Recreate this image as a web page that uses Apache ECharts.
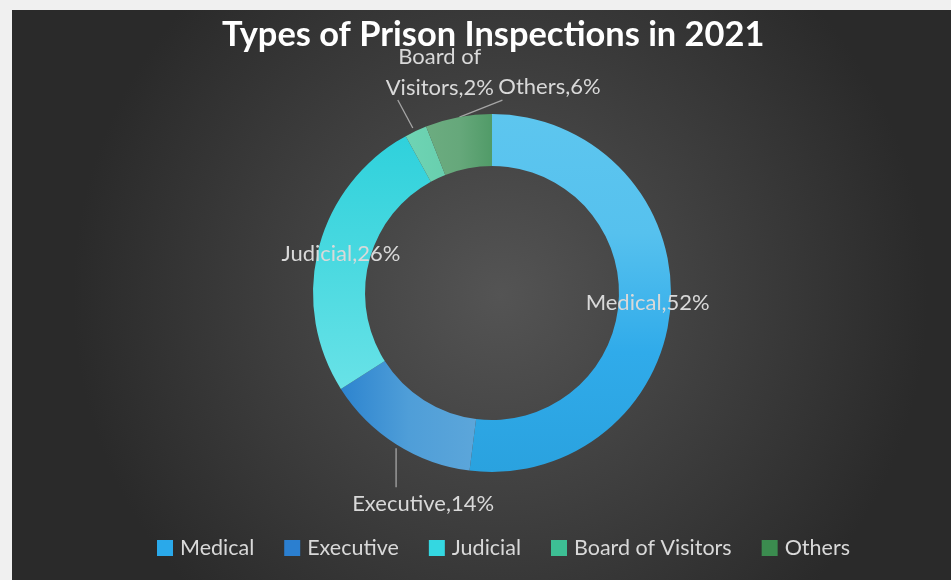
<!DOCTYPE html>
<html>
<head>
<meta charset="utf-8">
<title>Types of Prison Inspections in 2021</title>
<script src="https://cdn.jsdelivr.net/npm/echarts@6/dist/echarts.min.js"></script>
<style>
  html, body { margin: 0; padding: 0; background: #f0f0f0; width: 951px; height: 580px; overflow: hidden; }
  #chart { position: absolute; left: 12px; top: 10px; width: 939px; height: 570px; }
</style>
</head>
<body>
<div id="chart"></div>
<script>
// Inspection types and their share of all inspections (%)
const categories = ['Medical', 'Executive', 'Judicial', 'Board of Visitors', 'Others'];
const shares = [52, 14, 26, 2, 6];
const labelTexts = ['Medical,52%', 'Executive,14%', 'Judicial,26%', 'Board of\nVisitors,2%', 'Others,6%'];

// Ring geometry (px inside the chart box)
const CX = 480, CY = 283, R_IN = 127, R_OUT = 179;

// Slice fills (gradients) and legend swatch colours
const grad = (x2, y2, stops) => new echarts.graphic.LinearGradient(0, 0, x2, y2,
  stops.map((c, i) => ({ offset: i / (stops.length - 1), color: c })));
const sliceFills = [
  grad(0, 1, ['#5dc6ef', '#56c1ee', '#30abea', '#2aa2df']),
  grad(1, 0, ['#2d84cf', '#4f9ed8', '#5ca6da']),
  grad(0, 1, ['#2fd1dc', '#4ad9e0', '#68e2e7']),
  grad(1, 0, ['#6fd4b4', '#68cfae']),
  grad(1, 0, ['#6cac80', '#66a87b', '#519b68'])
];
const swatches = ['#2aa9ea', '#2b7fd0', '#34d7e1', '#3dbf94', '#3b8c4f'];

// Outside-label placement for the small slices: line points and label centre,
// as offsets from the slice's outer-edge mid point
const outsideLabels = {
  1: { line: [[0, 4], [0, 43]], text: [27, 60] },
  3: { line: [[-3, -3], [-18, -31]], text: [24, -59] },
  4: { line: [[1, 0], [44, -17]], text: [91, -30] }
};

const total = shares.reduce((a, b) => a + b, 0);
function edgeMid(i) {
  let before = 0;
  for (let k = 0; k < i; k++) before += shares[k];
  const theta = (before + shares[i] / 2) / total * 2 * Math.PI;
  return [CX + R_OUT * Math.sin(theta), CY - R_OUT * Math.cos(theta)];
}

const chart = echarts.init(document.getElementById('chart'));
const font = 'Lato, "Open Sans", sans-serif';

chart.setOption({
  backgroundColor: new echarts.graphic.RadialGradient(0.52, 0.5, 0.75, [
    { offset: 0, color: '#545454' },
    { offset: 1, color: '#2a2a2a' }
  ]),
  title: {
    text: 'Types of Prison Inspections in 2021',
    left: 205,
    top: 3,
    padding: 5,
    textStyle: { color: '#ffffff', fontSize: 34.4, fontWeight: 'bold', fontFamily: font }
  },
  legend: {
    left: 145,
    top: 527,
    itemWidth: 16,
    itemHeight: 16,
    itemGap: 30,
    icon: 'rect',
    padding: 0,
    textStyle: { color: '#d9d9d9', fontSize: 21.5, fontFamily: font, padding: [0, 0, 0, 2] },
    data: categories.map((name, i) => ({ name, itemStyle: { color: swatches[i] } }))
  },
  series: [{
    type: 'pie',
    center: [CX, CY],
    radius: [R_IN, R_OUT],
    startAngle: 90,
    clockwise: true,
    avoidLabelOverlap: false,
    animation: false,
    itemStyle: { borderWidth: 0 },
    label: {
      color: '#d9d9d9',
      fontSize: 22,
      fontFamily: font,
      lineHeight: 31,
      align: 'center',
      formatter: p => labelTexts[p.dataIndex]
    },
    labelLine: { lineStyle: { color: '#a6a6a6', width: 1.3 }, length: 10, length2: 10 },
    labelLayout: p => {
      const cfg = outsideLabels[p.dataIndex];
      if (!cfg) return {};
      const [ax, ay] = edgeMid(p.dataIndex);
      return {
        x: ax + cfg.text[0],
        y: ay + cfg.text[1],
        align: 'center',
        verticalAlign: 'middle',
        labelLinePoints: cfg.line.map(([dx, dy]) => [ax + dx, ay + dy])
      };
    },
    data: categories.map((name, i) => ({
      name,
      value: shares[i],
      itemStyle: { color: sliceFills[i] },
      label: { position: outsideLabels[i] ? 'outside' : 'inside' },
      labelLine: { show: !!outsideLabels[i] }
    }))
  }]
});
</script>
</body>
</html>
